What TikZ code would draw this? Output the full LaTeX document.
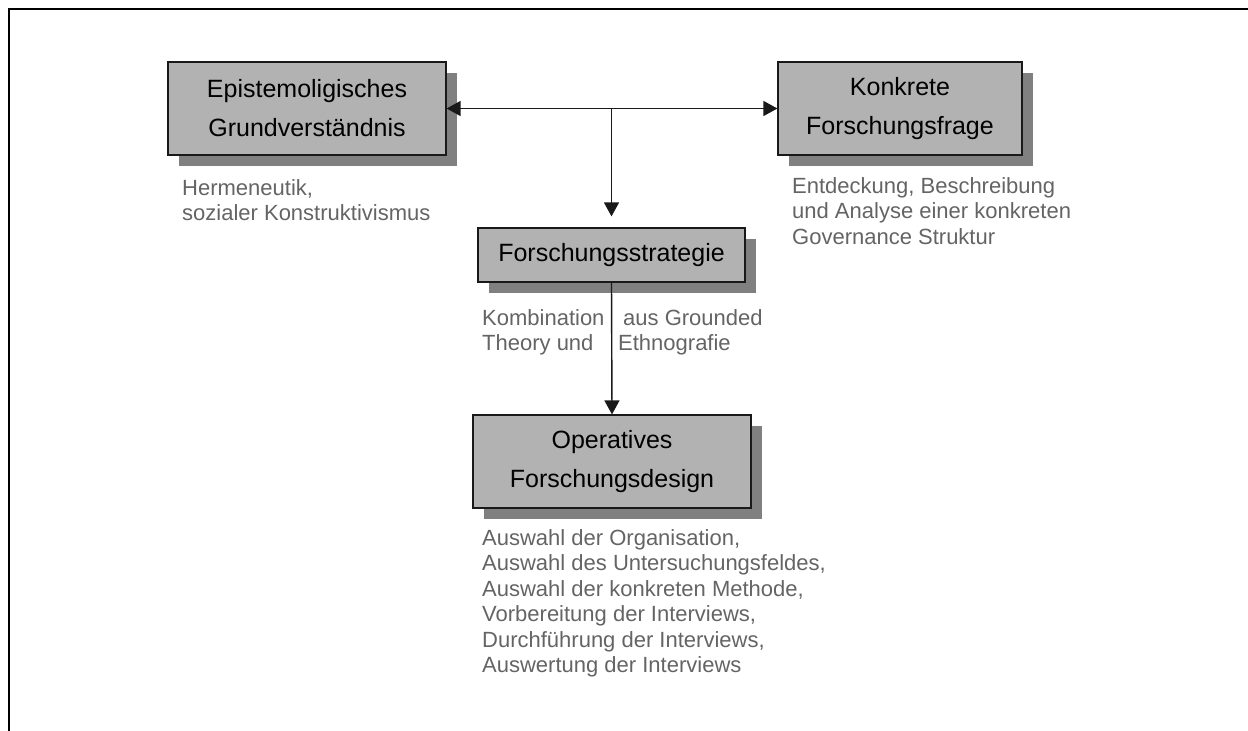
\documentclass[tikz,border=0pt]{standalone}
\usepackage{fontspec}
\setmainfont{Liberation Sans}
\usetikzlibrary{arrows.meta,shadows}
\definecolor{boxgray}{RGB}{178,178,178}
\definecolor{shadegray}{RGB}{128,128,128}
\definecolor{notegray}{RGB}{100,100,100}
\begin{document}
\begin{tikzpicture}[x=1pt,y=-1pt,
    >={Triangle[length=14pt,width=15pt]},
    box/.style={draw=black!90,fill=boxgray,line width=1.2pt,inner sep=0pt,align=center,
      font=\fontsize{25}{39}\selectfont,
      general shadow={fill=shadegray,shadow xshift=11pt,shadow yshift=-11pt}},
    note/.style={anchor=north west,inner sep=0pt,align=left,text=notegray,
      font=\fontsize{22}{25.5}\selectfont},
    arr/.style={line width=1.4pt,draw=black!90}]
            \useasboundingbox (0,0) rectangle (1248,731);
            \draw[line width=2.5pt] (1248,9) -- (9,9) -- (9,731);
            \node[box,minimum width=278pt,minimum height=93pt] (epi) at (307,108.5) {Epistemoligisches\\Grundverständnis};
            \node[box,minimum width=244pt,minimum height=93pt] (kon) at (900,108.5) {Konkrete\\Forschungsfrage};
            \node[box,minimum width=267pt,minimum height=54pt] (strat) at (611.5,255) {Forschungsstrategie};
            \node[box,minimum width=278pt,minimum height=93pt] (op) at (612,461.5) {Operatives\\Forschungsdesign};
            \node[note] (epinote) at (182,179) {Hermeneutik,\\sozialer Konstruktivismus};
            \node[note] (konnote) at (792,177) {Entdeckung, Beschreibung\\und Analyse einer konkreten\\Governance Struktur};
            \node[note] (stratnotea) at (482,309) {Kombination\\Theory und};
            \node[note] (stratnoteb) at (618,309) {\hspace*{5pt}aus Grounded\\Ethnografie};
            \node[note] (opnote) at (482,529) {Auswahl der Organisation,\\Auswahl des Untersuchungsfeldes,\\Auswahl der konkreten Methode,\\Vorbereitung der Interviews,\\Durchführung der Interviews,\\Auswertung der Interviews};
            \coordinate (junc) at (strat.north |- epi.east);
            \draw[arr,<->] (epi.east) -- (kon.west);
            \draw[arr,->] (junc) -- ([yshift=11pt]strat.north);
            \draw[arr,->] (strat.south) -- (op.north);
        \end{tikzpicture}
\end{document}
